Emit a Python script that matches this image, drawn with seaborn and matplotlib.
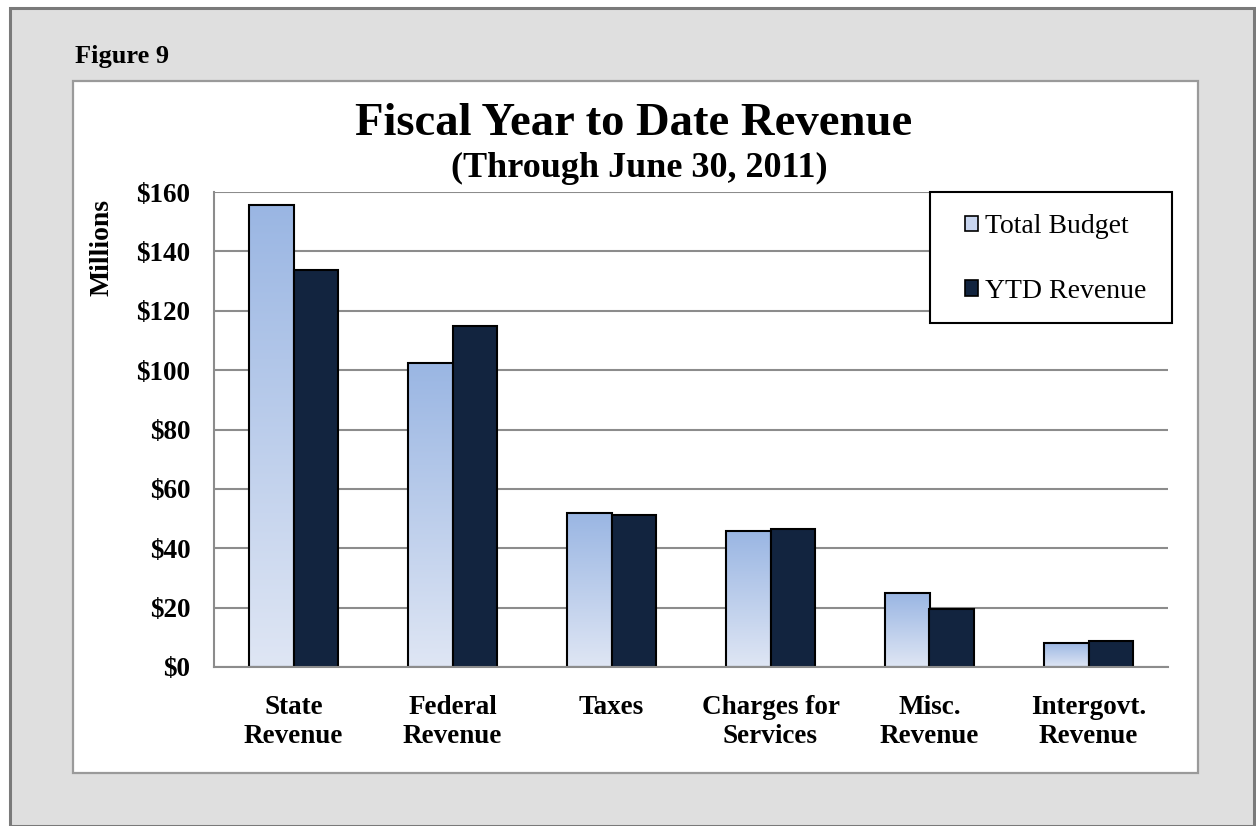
import numpy as np
import pandas as pd
import matplotlib
matplotlib.use("Agg")
import matplotlib.pyplot as plt
from matplotlib import font_manager
from matplotlib.patches import Rectangle, Patch
from matplotlib.colors import LinearSegmentedColormap
import seaborn as sns

# Revenue by source, in millions of dollars
categories = ["State\nRevenue", "Federal\nRevenue", "Taxes", "Charges for\nServices",
              "Misc.\nRevenue", "Intergovt.\nRevenue"]
total_budget = [155.6, 102.4, 51.8, 45.8, 24.8, 8.2]
ytd_revenue = [133.7, 114.8, 51.2, 46.4, 19.5, 8.7]
series_names = ["Total Budget", "YTD Revenue"]
y_ticks = [0, 20, 40, 60, 80, 100, 120, 140, 160]

df = pd.DataFrame({
    "Source": categories * 2,
    "Series": [series_names[0]] * len(categories) + [series_names[1]] * len(categories),
    "Value": total_budget + ytd_revenue,
})

sns.set_theme(style="white")
SERIF = "Liberation Serif"
font_manager.findfont(SERIF, fallback_to_default=False)
plt.rcParams["font.family"] = [SERIF, "DejaVu Serif"]
plt.rcParams["text.color"] = "black"
plt.rcParams["axes.labelcolor"] = "black"
plt.rcParams["xtick.color"] = "black"
plt.rcParams["ytick.color"] = "black"

W, H = 1256, 826
fig = plt.figure(figsize=(W / 100, H / 100), dpi=100, facecolor="white")

def fx(px):
    return px / W

def fy(py):
    return 1 - py / H

# Outer gray panel and inner white chart area
fig.patches.append(Rectangle((fx(10), 0), fx(1254) - fx(10), fy(8), transform=fig.transFigure,
                             facecolor="#dfdfdf", edgecolor="#7a7a7a", linewidth=2.2, zorder=-3))
fig.patches.append(Rectangle((fx(73), fy(773)), fx(1198) - fx(73), fy(81) - fy(773),
                             transform=fig.transFigure, facecolor="white",
                             edgecolor="#9a9a9a", linewidth=1.6, zorder=-2))

fig.text(fx(75), fy(63), "Figure 9", fontsize=19, fontweight="bold", ha="left", va="baseline")
fig.text(fx(634), fy(135), "Fiscal Year to Date Revenue", fontsize=33.6, fontweight="bold",
         ha="center", va="baseline")
fig.text(fx(639), fy(177), "(Through June 30, 2011)", fontsize=26, fontweight="bold",
         ha="center", va="baseline")

ax = fig.add_axes([fx(214), fy(667), fx(1168) - fx(214), fy(192) - fy(667)])
ax.set_facecolor("none")

budget_color = "#aec2e8"
ytd_color = "#12243f"
sns.barplot(data=df, x="Source", y="Value", hue="Series", palette=[budget_color, ytd_color],
            width=0.56, gap=0, edgecolor="black", linewidth=1.5, legend=False, ax=ax,
            saturation=1, zorder=3)

# Vertical gradient on the budget bars
grad = LinearSegmentedColormap.from_list("budget", ["#dfe6f4", "#9ab6e3"])
gvals = np.linspace(0, 1, 256).reshape(-1, 1)
n = len(categories)
for bar in ax.patches[:n]:
    x0, y0 = bar.get_x(), bar.get_y()
    w, h = bar.get_width(), bar.get_height()
    im = ax.imshow(gvals, cmap=grad, origin="lower", aspect="auto",
                   extent=[x0, x0 + w, y0, y0 + h], zorder=3.5)
    im.set_clip_path(bar)
    bar.set_facecolor("none")
    bar.set_zorder(4)
for bar in ax.patches[n:]:
    bar.set_zorder(4)
ax.set_xlim(-0.5, n - 0.5)
ax.set_ylim(0, 160)

ax.set_yticks(y_ticks)
ax.set_yticklabels([f"${v}" for v in y_ticks], fontsize=19.5, fontweight="bold")
ax.yaxis.grid(True, color="#8c8c8c", linewidth=1.5, zorder=0)
ax.set_axisbelow(True)

ax.set_xticks(range(n))
ax.set_xticklabels(categories, fontsize=19.5, fontweight="bold", linespacing=1.22)
ax.set_xticks(np.arange(-0.5, n), minor=True)
ax.tick_params(axis="x", which="major", length=0, pad=20)
ax.tick_params(axis="x", which="minor", length=8, width=1.5, direction="out")
ax.tick_params(axis="y", which="major", length=7, width=1.5, direction="out", pad=10)
ax.tick_params(axis="both", which="both", color="#8c8c8c", labelcolor="black")

for side in ["top", "right"]:
    ax.spines[side].set_visible(False)
for side in ["left", "bottom"]:
    ax.spines[side].set_color("#8c8c8c")
    ax.spines[side].set_linewidth(1.5)
    ax.spines[side].set_zorder(5)

ax.set_xlabel("")
ax.set_ylabel("")
fig.text(fx(102), fy(248), "Millions", rotation=90, fontsize=20, fontweight="bold",
         ha="center", va="center")

# Legend: boxed, two rows, square markers
fig.patches.append(Rectangle((fx(930), fy(323)), fx(1172) - fx(930), fy(192) - fy(323),
                             transform=fig.transFigure, facecolor="white",
                             edgecolor="black", linewidth=1.5, zorder=2))
handles = [Patch(facecolor="#c8d5ef", edgecolor="black", linewidth=1.2, label=series_names[0]),
           Patch(facecolor=ytd_color, edgecolor="black", linewidth=1.2, label=series_names[1])]
leg = fig.legend(handles=handles, loc="center left", bbox_to_anchor=(fx(965), fy(259)),
                 frameon=False, prop={"family": SERIF, "size": 20},
                 handlelength=0.48, handleheight=0.48, handletextpad=0.25,
                 labelspacing=1.42, borderpad=0, borderaxespad=0)
leg.set_zorder(3)

fig.savefig("out.png", dpi=100, facecolor="white")
